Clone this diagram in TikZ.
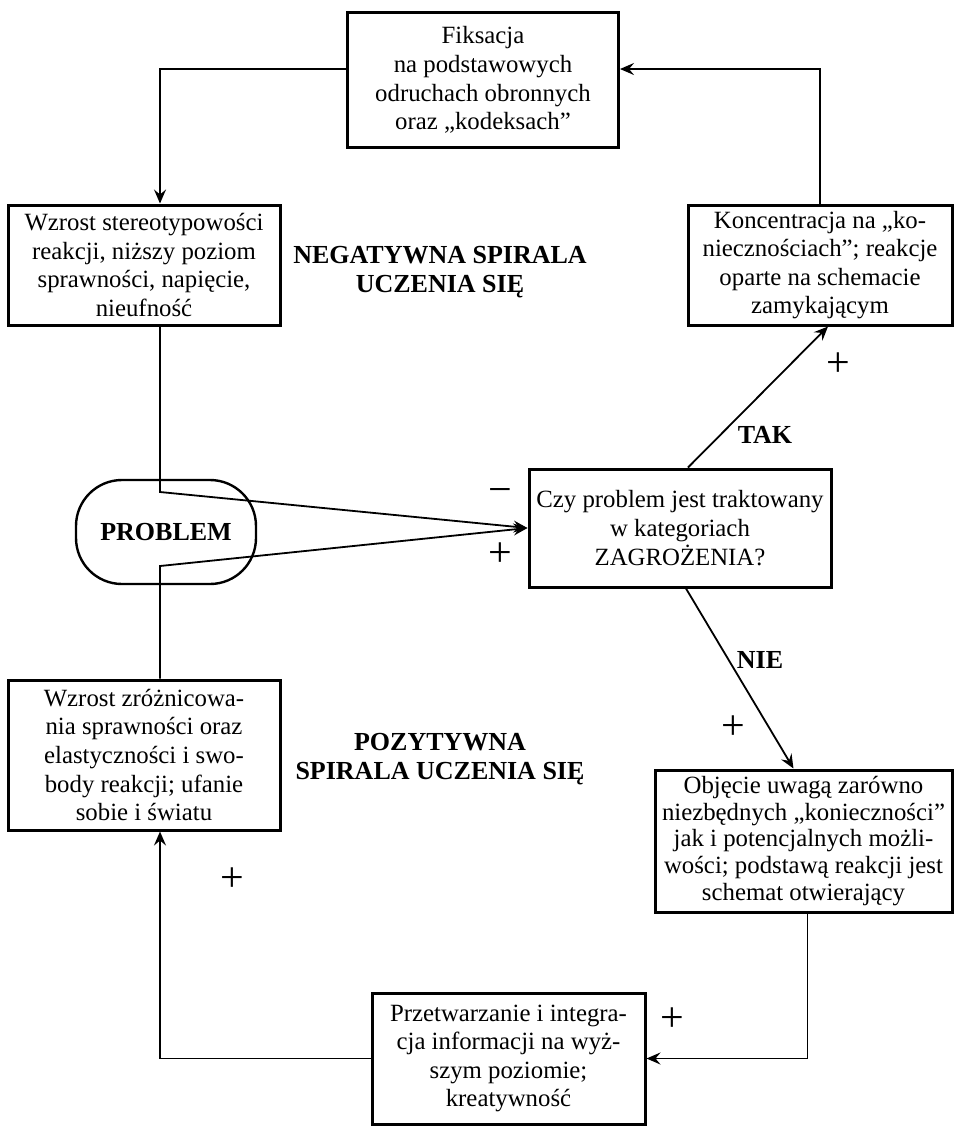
\documentclass[tikz,border=0pt]{standalone}
\usepackage{fontspec}
\setmainfont{Liberation Serif}
\usetikzlibrary{calc,arrows.meta}
\tikzset{
	box/.style={draw, line width=1.5pt, align=center, inner sep=0pt, font=\fontsize{12.4}{14.3}\selectfont},
	oval/.style={draw, line width=1.2pt, rounded corners=23pt, inner sep=0pt, font=\fontsize{13}{14.5}\selectfont\bfseries},
	spir/.style={align=center, font=\fontsize{13}{14.5}\selectfont\bfseries},
	sgn/.style={font=\fontsize{21}{21}\selectfont},
	arr/.style={line width=0.9pt, -{Stealth[length=7pt,width=6pt,inset=2.5pt]}},
}

\begin{document}
\begin{tikzpicture}[x=0.5pt, y=-0.5pt]
		%%%%% START %%%%%
		\useasboundingbox (0, 0) rectangle (954, 1126);
		
		\node[box, minimum width=135.5pt, minimum height=67.5pt] (fix) at (483, 80) {Fiksacja\\na podstawowych\\odruchach obronnych\\oraz „kodeksach”};
		
		\node[box, minimum width=136pt, minimum height=60pt] (stereo) at (144, 265) {Wzrost stereotypowości\\reakcji, niższy poziom\\sprawności, napięcie,\\nieufność};
		\node[box, minimum width=132pt, minimum height=60pt] (konc) at (820, 265) {Koncentracja na „ko-\\niecznościach”; reakcje\\oparte na schemacie\\zamykającym};
		
		\node[spir] (neg) at (440, 272) {NEGATYWNA SPIRALA\\UCZENIA SIĘ};
		
		\node[oval, minimum width=90pt, minimum height=52pt] (prob) at (166, 532) {PROBLEM};
		\node[box, minimum width=151pt, minimum height=59pt] (czy) at (680, 528) {Czy problem jest traktowany\\w kategoriach\\ZAGROŻENIA?};
		
		\node[box, minimum width=136pt, minimum height=75pt] (zroz) at (144, 755) {Wzrost zróżnicowa-\\nia sprawności oraz\\elastyczności i swo-\\body reakcji; ufanie\\sobie i światu};
		\node[box, minimum width=148.5pt, minimum height=71pt, font=\fontsize{12.4}{13.4}\selectfont] (obj) at (803.5, 841) {Objęcie uwagą zarówno\\niezbędnych „konieczności”\\jak i potencjalnych możli-\\wości; podstawą reakcji jest\\schemat otwierający};
		
		\node[spir] (poz) at (440, 759) {POZYTYWNA\\SPIRALA UCZENIA SIĘ};
		
		\node[box, minimum width=136.5pt, minimum height=65.5pt] (prz) at (508.5, 1058.5) {Przetwarzanie i integra-\\cja informacji na wyż-\\szym poziomie;\\kreatywność};
		
		\coordinate (ptop) at (160, 492);
		\coordinate (pbot) at (160, 566);
		
		\draw[arr] ([yshift=5.5pt]fix.west) -| ([xshift=8pt]stereo.north);
		\draw[arr] (konc.north) |- ([yshift=5.5pt]fix.east);
		
		\draw[arr] ([xshift=8pt]stereo.south) -- (ptop) -- (czy.west);
		\draw[arr] ([xshift=8pt]zroz.north) -- (pbot) -- (czy.west);
		
		\draw[arr] ([xshift=4pt]czy.north) -- ([xshift=4pt]konc.south);
		\draw[arr] ([xshift=3pt]czy.south) -- ([xshift=-5pt]obj.north);
		
		\draw[arr] ([xshift=2pt]obj.south) |- (prz.east);
		\draw[arr] (prz.west) -| ([xshift=8pt]zroz.south);
		
		\node[spir] (tak) at (765, 435) {TAK};
		\node[spir] (nie) at (760, 660) {NIE};
		
		\node[sgn] (s1) at (500, 496) {−};
		\node[sgn] (s2) at (500, 555) {+};
		\node[sgn] (s3) at (838, 365) {+};
		\node[sgn] (s4) at (733, 728) {+};
		\node[sgn] (s5) at (672, 1020) {+};
		\node[sgn] (s6) at (232, 880) {+};
		
		%%%%% END %%%%%
	\end{tikzpicture}
\end{document}
